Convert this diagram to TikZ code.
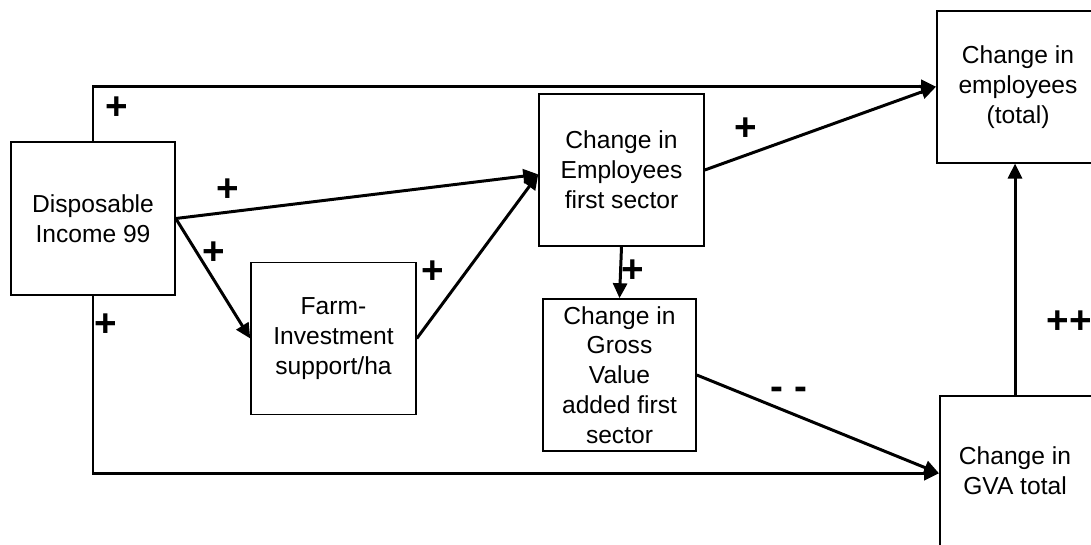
\documentclass[tikz,border=0pt]{standalone}
\usepackage{fontspec}
\setmainfont{Liberation Sans}
\usepackage{tikz}
\usetikzlibrary{arrows.meta}

\begin{document}
\begin{tikzpicture}[x=0.02cm, y=-0.02cm,
    box/.style={shape=rectangle, draw, line width=0.9pt, align=center, inner sep=2pt,
        font=\fontsize{14}{17}\selectfont},
    txt/.style={align=center, inner sep=0pt, font=\fontsize{14}{17}\selectfont},
    arr/.style={line width=1.7pt, -{Triangle[length=3mm,width=2.8mm]}},
    sign/.style={font=\fontsize{22}{22}\selectfont\bfseries, inner sep=0pt}]
    \useasboundingbox (0,0) rectangle (1091,544);

    \node[box, minimum width=3.28cm, minimum height=3.06cm] (income) at (93,218.5) {Disposable\\Income 99};
    \node[box, minimum width=3.3cm, minimum height=3.04cm] (farm) at (333.5,338.5) {Farm-\\Investment\\support/ha};
    \node[box, minimum width=3.3cm, minimum height=3.04cm] (empfirst) at (621.5,170) {Change in\\Employees\\first sector};
    \node[box, minimum width=3.06cm, minimum height=3.04cm] (gvafirst) at (619.5,375) {Change in\\Gross\\Value\\added first\\sector};
    % right hand boxes run off the page
    \node[box, anchor=north west, minimum width=3.8cm, minimum height=3.04cm] (emptotal) at (936,10) {};
    \node[txt] (emptext) at (1018,87) {Change in\\employees\\(total)};
    \node[box, anchor=north west, minimum width=3.8cm, minimum height=3.1cm] (gvatotal) at (939,395) {};
    \node[txt] (gvatext) at (1015,471) {Change in\\GVA total};

    \draw[arr] (income.north) |- (emptotal.west);
    \draw[arr] (income.south) |- (gvatotal.west);
    \draw[arr] (income.east) -- (empfirst.183);
    \draw[arr] (income.east) -- (farm.west);
    \draw[arr] (farm.east) -- (empfirst.183);
    \draw[arr] (empfirst.east) -- (emptotal.west);
    \draw[arr] (empfirst.south) -- (gvafirst.north);
    \draw[arr] (gvafirst.east) -- (gvatotal.west);
    \draw[arr] (gvatext.north |- gvatotal.north) -- (gvatext.north |- emptotal.south);

    % signs of the effects
    \node[sign] (s1) at (117,108) {+};
    \node[sign] (s2) at (228,190) {+};
    \node[sign] (s3) at (214,253) {+};
    \node[sign] (s4) at (433,272) {+};
    \node[sign] (s5) at (106,325) {+};
    \node[sign] (s6) at (746,129) {+};
    \node[sign] (s7) at (633,271) {+};
    \node[sign] (s8) at (789,393) {- -};
    \node[sign] (s9) at (1069,322) {++};
\end{tikzpicture}
\end{document}
